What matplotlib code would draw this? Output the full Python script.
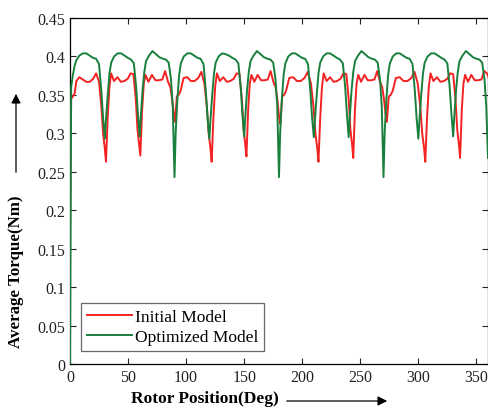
import matplotlib.pyplot as plt

plt.rcParams['font.family'] = ['Liberation Serif', 'DejaVu Serif']

# sample points inside each ~30 deg cycle, as a fraction of the cycle length
cycle_fracs = [0, 0.033, 0.083, 0.133, 0.183, 0.267, 0.367, 0.467,
               0.567, 0.667, 0.75, 0.833, 0.9, 0.95]

# cycle start positions (deg) for each curve
optimized_starts = [0, 30, 60, 90, 120, 150, 180, 210, 240, 270, 300, 330, 360]
initial_starts = [0, 30, 59.6, 89.4, 121, 151, 180, 213, 243, 271.8, 305, 335, 364]

# torque values (Nm) read per cycle
optimized_vals = [
    [0.000, 0.360, 0.376, 0.388, 0.395, 0.401, 0.404, 0.404, 0.401, 0.398, 0.397, 0.390, 0.355, 0.320],
    [0.293, 0.318, 0.350, 0.378, 0.392, 0.400, 0.404, 0.404, 0.401, 0.398, 0.396, 0.391, 0.360, 0.325],
    [0.296, 0.322, 0.356, 0.380, 0.394, 0.401, 0.407, 0.403, 0.399, 0.397, 0.396, 0.392, 0.370, 0.335],
    [0.243, 0.300, 0.345, 0.376, 0.391, 0.400, 0.404, 0.404, 0.401, 0.398, 0.397, 0.390, 0.355, 0.320],
    [0.293, 0.318, 0.350, 0.378, 0.392, 0.400, 0.404, 0.403, 0.401, 0.398, 0.396, 0.391, 0.360, 0.325],
    [0.296, 0.322, 0.356, 0.380, 0.394, 0.401, 0.407, 0.403, 0.399, 0.397, 0.396, 0.392, 0.370, 0.335],
    [0.243, 0.300, 0.345, 0.376, 0.391, 0.400, 0.404, 0.404, 0.401, 0.398, 0.397, 0.390, 0.355, 0.320],
    [0.295, 0.318, 0.350, 0.378, 0.392, 0.400, 0.404, 0.404, 0.401, 0.398, 0.396, 0.391, 0.360, 0.325],
    [0.295, 0.322, 0.356, 0.380, 0.394, 0.401, 0.407, 0.403, 0.399, 0.397, 0.396, 0.392, 0.370, 0.335],
    [0.243, 0.300, 0.345, 0.376, 0.391, 0.400, 0.404, 0.404, 0.401, 0.398, 0.397, 0.390, 0.355, 0.320],
    [0.293, 0.318, 0.350, 0.378, 0.392, 0.400, 0.404, 0.404, 0.401, 0.398, 0.396, 0.391, 0.360, 0.325],
    [0.296, 0.322, 0.356, 0.380, 0.394, 0.401, 0.407, 0.403, 0.399, 0.397, 0.396, 0.392, 0.370, 0.335],
]
optimized_end = 0.268

initial_vals = [
    [0.170, 0.345, 0.348, 0.352, 0.368, 0.373, 0.370, 0.367, 0.367, 0.371, 0.378, 0.367, 0.335, 0.300],
    [0.280, 0.263, 0.320, 0.360, 0.378, 0.368, 0.373, 0.367, 0.368, 0.371, 0.378, 0.377, 0.345, 0.305],
    [0.285, 0.271, 0.330, 0.365, 0.376, 0.367, 0.376, 0.369, 0.369, 0.370, 0.381, 0.367, 0.360, 0.345],
    [0.325, 0.315, 0.348, 0.350, 0.355, 0.372, 0.373, 0.368, 0.368, 0.372, 0.380, 0.365, 0.335, 0.300],
    [0.280, 0.263, 0.320, 0.360, 0.378, 0.368, 0.373, 0.367, 0.368, 0.371, 0.378, 0.377, 0.345, 0.305],
    [0.285, 0.270, 0.330, 0.365, 0.376, 0.367, 0.376, 0.369, 0.369, 0.370, 0.381, 0.367, 0.360, 0.345],
    [0.322, 0.312, 0.348, 0.350, 0.355, 0.372, 0.373, 0.368, 0.368, 0.372, 0.380, 0.365, 0.335, 0.300],
    [0.280, 0.263, 0.320, 0.360, 0.378, 0.368, 0.373, 0.367, 0.368, 0.371, 0.378, 0.377, 0.345, 0.305],
    [0.285, 0.268, 0.330, 0.365, 0.376, 0.367, 0.376, 0.369, 0.369, 0.370, 0.381, 0.367, 0.360, 0.345],
    [0.325, 0.315, 0.348, 0.350, 0.355, 0.372, 0.373, 0.368, 0.368, 0.372, 0.380, 0.365, 0.335, 0.300],
    [0.280, 0.263, 0.320, 0.360, 0.378, 0.368, 0.373, 0.367, 0.368, 0.371, 0.378, 0.377, 0.345, 0.305],
    [0.285, 0.268, 0.330, 0.365, 0.376, 0.367, 0.376, 0.369, 0.369, 0.370, 0.381, 0.378, 0.370, 0.360],
]

xticks = [0, 50, 100, 150, 200, 250, 300, 350]
yticks = [0, 0.05, 0.1, 0.15, 0.2, 0.25, 0.3, 0.35, 0.4, 0.45]
ytick_labels = ['0', '0.05', '0.1', '0.15', '0.2', '0.25', '0.3', '0.35', '0.4', '0.45']


def unroll(starts, vals):
    xs, ys = [], []
    for k, row in enumerate(vals):
        a, b = starts[k], starts[k + 1]
        for f, v in zip(cycle_fracs, row):
            xs.append(a + f * (b - a))
            ys.append(v)
    return xs, ys


x_opt, y_opt = unroll(optimized_starts, optimized_vals)
x_opt.append(360)
y_opt.append(optimized_end)
x_ini, y_ini = unroll(initial_starts, initial_vals)

W, H = 488, 410
fig = plt.figure(figsize=(W / 100, H / 100), dpi=100)
ax = fig.add_axes([70 / W, 1 - 365 / H, 418 / W, 346 / H])

ax.plot(x_ini, y_ini, color='#f42222', lw=1.4, label='Initial Model', zorder=3)
ax.plot(x_opt, y_opt, color='#18803c', lw=1.4, label='Optimized Model', zorder=3)

ax.set_xlim(0, 360)
ax.set_ylim(0, 0.45)
ax.set_xticks(xticks)
ax.set_yticks(yticks)
ax.set_yticklabels(ytick_labels)
ax.tick_params(direction='in', top=True, right=True, length=4, labelsize=11.5,
               colors='#222222')
for s in ax.spines.values():
    s.set_linewidth(0.9)

leg = ax.legend(loc='lower left', bbox_to_anchor=(0.026, 0.037), borderaxespad=0,
                fancybox=False, fontsize=12.5, handlelength=2.6, handletextpad=0.15,
                borderpad=0.35, labelspacing=0.2)
leg.get_frame().set_edgecolor('#444444')
leg.get_frame().set_linewidth(0.9)
leg.set_zorder(5)

# axis titles with arrows, placed like the original
fig.text(205 / W, 1 - 399 / H, 'Rotor Position(Deg)', ha='center', va='center',
         fontsize=12.5, fontweight='bold')
fig.text(16 / W, 1 - 272 / H, 'Average Torque(Nm)', ha='center', va='center',
         rotation=90, fontsize=12.2, fontweight='bold')
ax.annotate('', xy=(390 / W, 1 - 402 / H), xytext=(284 / W, 1 - 402 / H),
            xycoords='figure fraction', textcoords='figure fraction',
            arrowprops=dict(arrowstyle='-|>', lw=0.9, color='black',
                            mutation_scale=14))
ax.annotate('', xy=(16 / W, 1 - 92 / H), xytext=(16 / W, 1 - 176 / H),
            xycoords='figure fraction', textcoords='figure fraction',
            arrowprops=dict(arrowstyle='-|>', lw=0.9, color='black',
                            mutation_scale=14))

fig.savefig('out.png', dpi=100)
